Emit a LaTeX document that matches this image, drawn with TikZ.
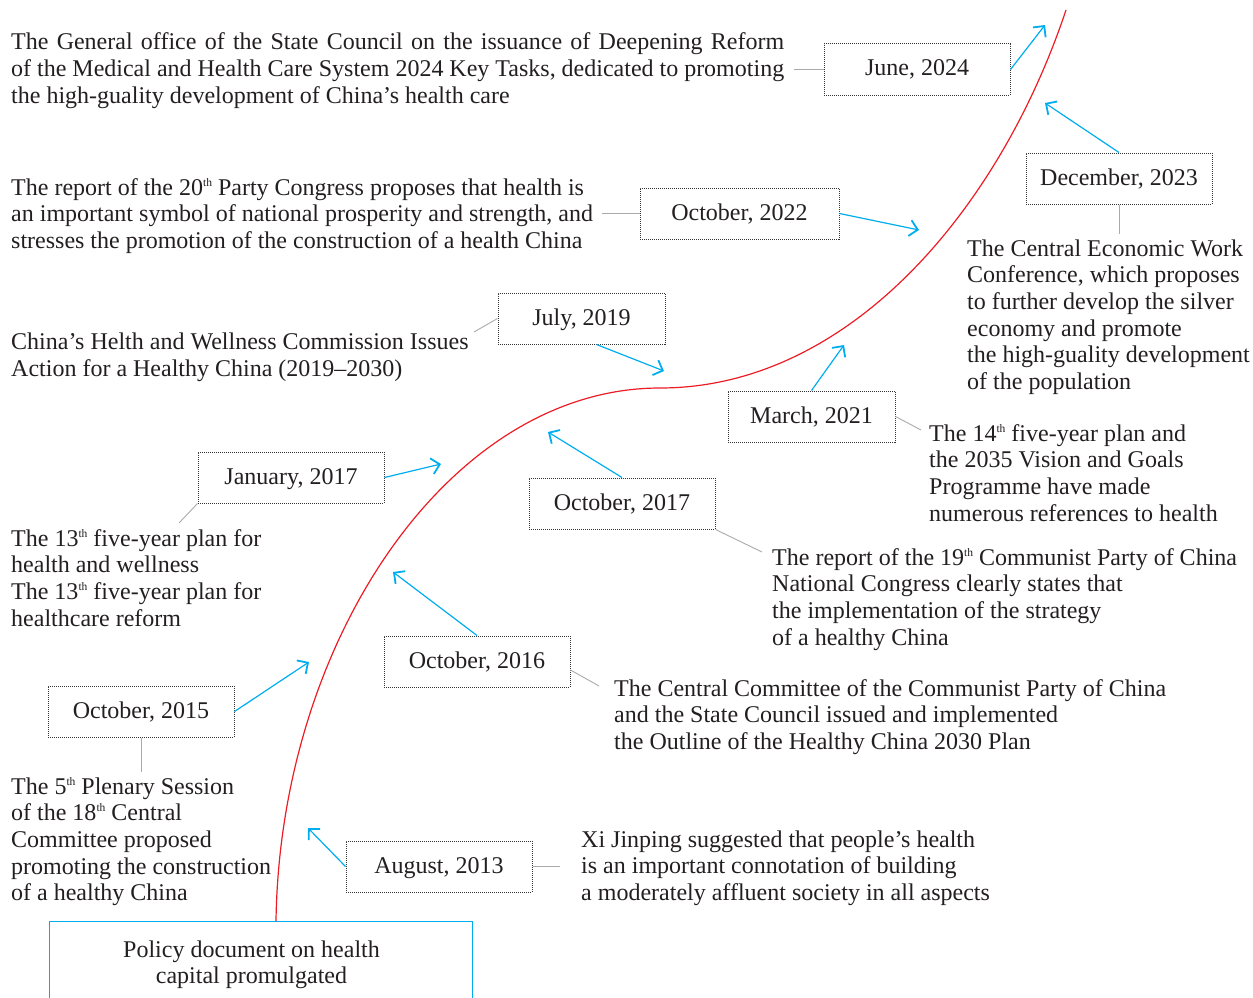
\documentclass[tikz,border=0pt]{standalone}
\usepackage{fontspec}
\setmainfont{Liberation Serif}
\usetikzlibrary{arrows.meta}
\definecolor{arrowblue}{RGB}{0,174,239}
\definecolor{curvered}{RGB}{237,28,36}
\definecolor{leadgray}{RGB}{170,170,170}
\definecolor{boxgray}{RGB}{50,50,50}
\definecolor{ink}{RGB}{35,31,32}
\newcommand{\thsup}{\raisebox{9pt}{\fontsize{11.5}{11.5}\selectfont th}}
\newcommand{\para}[1]{\vtop{\baselineskip=26.7pt\lineskiplimit=-30pt\lineskip=0pt #1}}
\begin{document}
\begin{tikzpicture}[x=1pt,y=-1pt,
  every node/.style={font=\fontsize{24}{26.7}\selectfont, text=ink},
  datebox/.style={draw=boxgray, densely dotted, line width=1pt, minimum height=51pt, inner sep=0pt, text height=17pt, text depth=4pt},
  txt/.style={anchor=base west, inner sep=0pt},
  arr/.style={draw=arrowblue, line width=1.2pt, -{Straight Barb[length=8pt,width=16pt,line width=1.8pt]}},
  lead/.style={draw=leadgray, line width=0.9pt},
  basebox/.style={draw=arrowblue, line width=1.2pt, minimum width=423pt, minimum height=110pt, anchor=north west, inner sep=0pt},
  curve/.style={draw=curvered, line width=1.2pt}
]
\useasboundingbox (0,0) rectangle (1253,998);

% base box
\node[basebox] (base) at (49,921) {};
\node[anchor=base, inner sep=0pt] (basetxt) at (251.5,957) {\para{\hbox to 320pt{\hss Policy document on health\hss}\hbox to 320pt{\hss capital promulgated\hss}}};

% red curve
\coordinate (cstart) at (276,921);
\coordinate (cmid) at (660,388);
\coordinate (cend) at (1066,10);
\draw[curve] (cstart) .. controls (280,640) and (450,388) .. (cmid)
                      .. controls (850,388) and (1000,208) .. (cend);

% date boxes
\node[datebox, minimum width=186pt] (d24) at (917,69.5) {June, 2024};
\node[datebox, minimum width=186pt] (d23) at (1119,178.5) {December, 2023};
\node[datebox, minimum width=199pt] (d22) at (739.5,213.5) {October, 2022};
\node[datebox, minimum width=167pt] (d19) at (581.5,318.5) {July, 2019};
\node[datebox, minimum width=167pt] (d21) at (811.5,416.5) {March, 2021};
\node[datebox, minimum width=186pt] (d17a) at (291,477.5) {January, 2017};
\node[datebox, minimum width=186pt] (d17b) at (622,503.5) {October, 2017};
\node[datebox, minimum width=186pt] (d16) at (477,661.5) {October, 2016};
\node[datebox, minimum width=186pt] (d15) at (141,711.5) {October, 2015};
\node[datebox, minimum width=186pt] (d13) at (439,866.5) {August, 2013};

% texts
\node[txt] (t24) at (11,50) {\para{\hbox to 773pt{The General office of the State Council on the issuance of Deepening Reform}\hbox to 773pt{of the Medical and Health Care System 2024 Key Tasks, dedicated to promoting}\hbox{the high-guality development of China’s health care}}};
\node[txt] (t22) at (11,195) {\para{\hbox{The report of the 20\thsup{} Party Congress proposes that health is}\hbox{an important symbol of national prosperity and strength, and}\hbox{stresses the promotion of the construction of a health China}}};
\node[txt] (t19) at (11,349.5) {\para{\hbox{China’s Helth and Wellness Commission Issues}\hbox{Action for a Healthy China (2019–2030)}}};
\node[txt] (t17a) at (11,546) {\para{\hbox{The 13\thsup{} five-year plan for}\hbox{health and wellness}\hbox{The 13\thsup{} five-year plan for}\hbox{healthcare reform}}};
\node[txt] (t15) at (11,794) {\para{\hbox{The 5\thsup{} Plenary Session}\hbox{of the 18\thsup{} Central}\hbox{Committee proposed}\hbox{promoting the construction}\hbox{of a healthy China}}};
\node[txt] (t13) at (581,847) {\para{\hbox{Xi Jinping suggested that people’s health}\hbox{is an important connotation of building}\hbox{a moderately affluent society in all aspects}}};
\node[txt] (t16) at (614,696) {\para{\hbox{The Central Committee of the Communist Party of China}\hbox{and the State Council issued and implemented}\hbox{the Outline of the Healthy China 2030 Plan}}};
\node[txt] (t17b) at (772,565) {\para{\hbox{The report of the 19\thsup{} Communist Party of China}\hbox{National Congress clearly states that}\hbox{the implementation of the strategy}\hbox{of a healthy China}}};
\node[txt] (t21) at (929,441) {\para{\hbox{The 14\thsup{} five-year plan and}\hbox{the 2035 Vision and Goals}\hbox{Programme have made}\hbox{numerous references to health}}};
\node[txt] (t23) at (967,256) {\para{\hbox{The Central Economic Work}\hbox{Conference, which proposes}\hbox{to further develop the silver}\hbox{economy and promote}\hbox{the high-guality development}\hbox{of the population}}};

% arrow targets
\coordinate (a24) at (1045,25);
\coordinate (a23) at (1045,103);
\coordinate (a22) at (919,230);
\coordinate (a19) at (664,371);
\coordinate (a21) at (844,345);
\coordinate (a17a) at (441,464);
\coordinate (a17b) at (548,432);
\coordinate (a16) at (393,572);
\coordinate (a15) at (309,662);
\coordinate (a13) at (308,828);

\draw[arr] (d24.east) -- (a24);
\draw[arr] (d23.north) -- (a23);
\draw[arr] (d22.east) -- (a22);
\draw[arr] ([xshift=15pt]d19.south) -- (a19);
\draw[arr] (d21.north) -- (a21);
\draw[arr] (d17a.east) -- (a17a);
\draw[arr] (d17b.north) -- (a17b);
\draw[arr] (d16.north) -- (a16);
\draw[arr] (d15.east) -- (a15);
\draw[arr] (d13.west) -- (a13);

% lead lines
\coordinate (l24) at (794,69.5);
\coordinate (l23) at (1119,234);
\coordinate (l22) at (602,213.5);
\coordinate (l19) at (474,332);
\coordinate (l21) at (921,430);
\coordinate (l17a) at (179,523);
\coordinate (l17b) at (762,552);
\coordinate (l16) at (599,686);
\coordinate (l15) at (141,772);
\coordinate (l13) at (560,866.5);

\draw[lead] (d24.west) -- (l24);
\draw[lead] (d23.south) -- (l23);
\draw[lead] (d22.west) -- (l22);
\draw[lead] (d19.west) -- (l19);
\draw[lead] (d21.east) -- (l21);
\draw[lead] (d17a.south west) -- (l17a);
\draw[lead] (d17b.south east) -- (l17b);
\draw[lead] ([yshift=-8.5pt]d16.east) -- (l16);
\draw[lead] (d15.south) -- (l15);
\draw[lead] (d13.east) -- (l13);
\end{tikzpicture}
\end{document}
